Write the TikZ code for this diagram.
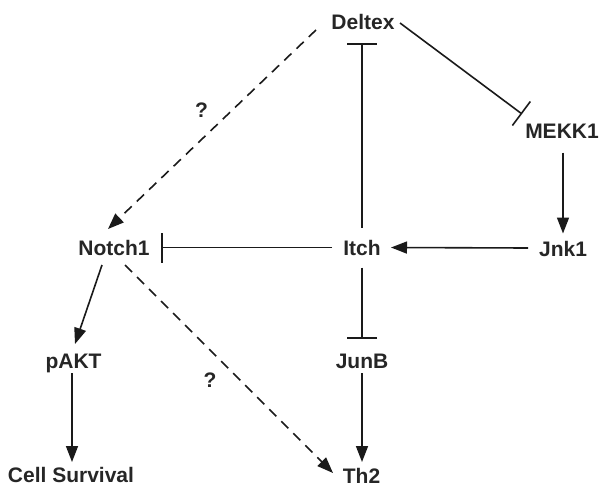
\documentclass[tikz,border=0pt]{standalone}
\usepackage{fontspec}
\setmainfont{Liberation Sans}
\usetikzlibrary{arrows.meta,calc}
\definecolor{txt}{HTML}{262626}
\definecolor{ln}{HTML}{1A1A1A}
\tikzset{
  lbl/.style={font=\fontsize{21}{24}\selectfont\bfseries, text=txt, inner sep=0pt, outer sep=0pt, text height=15pt, text depth=0pt},
  conn/.style={draw=ln, line width=1.6pt},
  act/.style={conn, -{Triangle[length=16pt,width=12pt]}},
  inh/.style={conn, -{Bar[width=30pt,line width=1.6pt]}},
  dsh/.style={dash pattern=on 10pt off 7pt}
}
\begin{document}
\begin{tikzpicture}[x=1pt,y=-1pt]
\useasboundingbox (0,0) rectangle (599,487);
\node[lbl] (deltex) at (363,22.5) {Deltex};
\node[lbl] (mekk1) at (562,130.5) {MEKK1};
\node[lbl] (jnk1) at (563,248.5) {Jnk1};
\node[lbl] (notch1) at (114,247.5) {Notch1};
\node[lbl] (itch) at (362,247.5) {Itch};
\node[lbl] (pakt) at (73.5,360.5) {pAKT};
\node[lbl] (junb) at (362,360.5) {JunB};
\node[lbl] (cell) at (71,475) {Cell Survival};
\node[lbl] (th2) at (361.5,476) {Th2};
\node[lbl] (q1) at (201.5,109.5) {?};
\node[lbl] (q2) at (210,380) {?};
% Deltex -> Notch1 (dashed)
\draw[act,dsh] ($(deltex.center)+(-47,7.5)$) -- ($(notch1.center)+(-6,-18.5)$);
% Deltex -| MEKK1
\draw[inh] ($(deltex.center)+(37,0.5)$) -- ($(mekk1.center)+(-40,-16.5)$);
% Itch -| Deltex
\draw[inh] ($(itch.center)+(0,-20)$) -- ($(deltex.center -| itch.center)+(0,20.5)$);
% MEKK1 -> Jnk1
\draw[act] ($(mekk1.center -| jnk1.center)+(0,22)$) -- ($(jnk1.center)+(0,-15)$);
% Jnk1 -> Itch
\draw[act] ($(jnk1.center)+(-35,-0.5)$) -- ($(itch.center)+(29,0)$);
% Itch -| Notch1
\draw[inh] ($(itch.center)+(-30,0)$) -- ($(notch1.center)+(47,0)$);
% Itch -| JunB
\draw[inh] ($(itch.center)+(0,20)$) -- ($(junb.center)+(0,-22)$);
% Notch1 -> pAKT
\draw[act] ($(notch1.center)+(-12,17.5)$) -- ($(pakt.center)+(1.5,-16.5)$);
% Notch1 -> Th2 (dashed)
\draw[act,dsh] ($(notch1.center)+(11,17.5)$) -- ($(th2.center)+(-28.5,-3)$);
% pAKT -> Cell Survival
\draw[act] ($(pakt.center)+(-1.5,12.5)$) -- ($(cell.center)+(1,-13)$);
% JunB -> Th2
\draw[act] ($(junb.center)+(0,12.5)$) -- ($(th2.center -| junb.center)+(0,-14)$);
\end{tikzpicture}
\end{document}
